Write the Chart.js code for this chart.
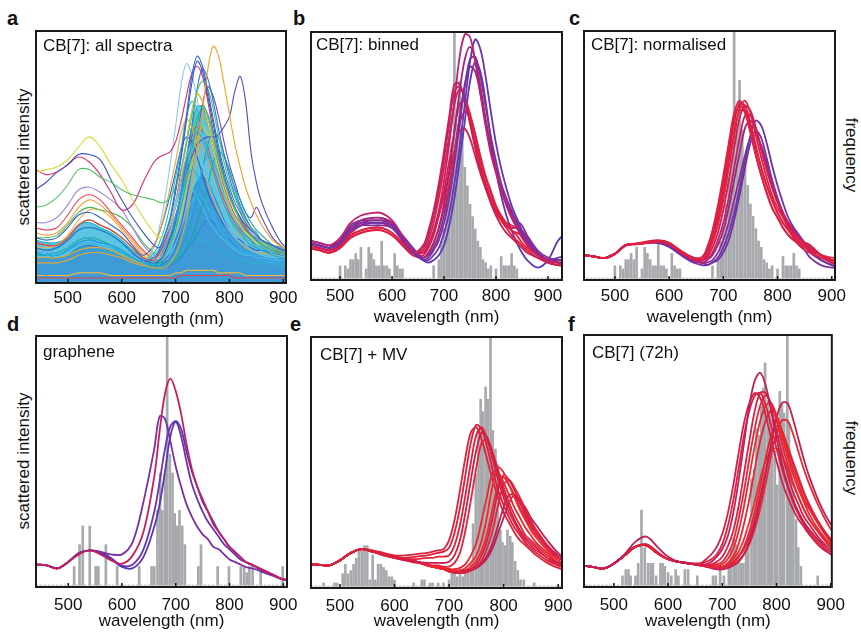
<!DOCTYPE html>
<html>
<head>
<meta charset="utf-8">
<script src="https://cdn.jsdelivr.net/npm/chart.js@4.4.1/dist/chart.umd.min.js"></script>
<style>
  body { margin: 0; background: #fff; }
  #page { position: relative; width: 861px; height: 633px; overflow: hidden; font-family: "Liberation Sans", Arial, sans-serif; color: #111; }
  canvas { position: absolute; }
  .letter { position: absolute; font-weight: bold; font-size: 20px; line-height: 20px; }
  .tag { position: absolute; font-size: 17px; line-height: 17px; white-space: nowrap; }
  .ytitle { position: absolute; font-size: 17px; line-height: 17px; white-space: nowrap; transform: translate(-50%, -50%) rotate(-90deg); }
  .ytitle.right { transform: translate(-50%, -50%) rotate(90deg); }
</style>
</head>
<body>
<div id="page">
  <div class="letter" style="left:7px;top:8px">a</div>
  <div class="letter" style="left:293px;top:8px">b</div>
  <div class="letter" style="left:569px;top:8px">c</div>
  <div class="letter" style="left:7px;top:314px">d</div>
  <div class="letter" style="left:290px;top:314px">e</div>
  <div class="letter" style="left:568px;top:314px">f</div>

  <div class="ytitle" style="left:23px;top:157px">scattered intensity</div>
  <div class="ytitle" style="left:23px;top:461px">scattered intensity</div>
  <div class="ytitle right" style="left:851px;top:155px">frequency</div>
  <div class="ytitle right" style="left:851px;top:458px">frequency</div>
</div>
<script>
// wavelength grid shared by every spectrum (nm)
const wavelengths = [440,460,480,500,520,540,560,580,600,620,640,660,670,680,690,700,710,720,730,740,750,760,770,780,790,800,810,820,830,840,850,860,880,900,920,940];
const tickValues = [500, 600, 700, 800, 900];

// a: all spectra
const specA = [
  [12,11,11,13,16,17,16,15,13,10,8, 8,10,14,19,26,35,45,55,60,57,51,44,37,31,26,22,20,17,15,14,13,11,10,9,9],
  [14,13,14,17,21,22,21,19,16,12,9, 10,13,19,26,38,51,66,82,90,86,76,65,54,45,38,32,28,24,21,19,17,15,13,12,11],
  [11,11,12,14,17,18,17,15,12,10,8, 7,8,11,15,21,30,40,52,64,70,67,59,50,42,35,30,25,22,19,17,15,13,11,10,10],
  [8,8,8,9,11,12,12,11,10,8,7, 6,6,6,8,11,17,25,38,53,68,85,94,90,79,67,55,46,38,32,27,23,17,14,12,11],
  [13,12,12,14,17,18,17,15,13,11,9, 10,13,18,24,32,41,50,55,53,47,40,34,29,24,21,18,16,15,13,12,11,10,10,9,9],
  [30,31,34,39,45,45,42,40,37,35,34, 33,32,32,34,38,45,55,66,76,80,77,69,58,48,40,34,29,25,22,19,17,14,12,11,10],
  [44,45,46,49,54,58,54,47,41,33,26, 20,18,19,23,31,42,55,68,75,72,64,54,45,37,31,26,23,20,18,16,15,13,11,10,10],
  [37,40,44,47,51,51,49,41,33,26,20, 15,14,18,25,36,49,64,79,88,84,74,63,52,43,36,30,26,22,19,17,15,13,11,10,10],
  [45,43,44,47,50,48,43,36,29,31,40, 48,50,51,52,56,64,74,83,86,82,72,60,50,42,35,30,26,23,21,19,17,15,13,12,11],
  [13,12,12,14,17,18,17,15,13,11,9, 8,9,12,18,26,35,44,50,55,57,58,58,59,62,66,76,82,72,52,40,32,22,15,13,12],
  [10,10,10,11,13,14,14,13,11,9,8, 15,20,28,38,48,59,65,62,55,47,39,33,28,24,21,18,16,14,13,12,12,11,10,9,9],
  [16,15,15,18,23,25,23,21,18,14,10, 9,12,17,23,32,44,56,68,75,72,64,54,46,38,32,27,24,21,19,17,15,13,12,11,11],
  [8,8,8,9,11,12,12,11,10,8,7, 6,6,7,9,12,16,22,29,37,46,50,48,43,36,31,26,22,19,17,14,13,11,10,9,8],
  [11,11,11,13,15,16,15,14,12,10,8, 9,12,15,21,27,34,41,45,43,39,33,28,24,21,18,16,14,13,12,11,11,10,9,9,8],
  [14,13,14,17,21,22,21,19,16,12,9, 12,16,22,31,42,53,66,72,69,61,52,44,37,31,27,23,20,18,16,15,14,12,12,11,10],
  [16,15,15,18,23,25,23,21,18,14,10, 8,9,11,16,21,29,39,49,60,66,63,56,48,40,34,29,25,22,19,17,16,14,12,11,11],
  [12,11,11,13,16,17,16,15,13,10,8, 7,9,12,17,24,35,48,62,77,85,81,72,61,51,42,35,30,26,22,19,17,14,12,11,10],
  [8,8,8,9,11,12,12,11,10,8,7, 7,8,10,12,16,21,27,32,35,34,30,26,22,19,16,14,13,12,11,10,9,8,8,7,7],
  [3,3,3,3,4,4,4,3,3,3,3, 3,3,3,3,4,4,5,5,5,5,5,5,4,4,4,4,4,3,3,3,3,3,3,3,3],
  [2,2,2,2,2,2,2,2,2,2,2, 2,2,2,2,2,3,3,3,3,3,3,3,3,3,3,2,2,2,2,2,2,2,2,2,2],
  [12,11,11,13,16,17,16,15,13,10,8, 7,7,7,8,10,14,19,26,35,45,55,60,57,51,44,37,31,26,22,20,17,14,12,11,10],
  [18,17,18,22,27,28,26,23,20,15,11, 15,20,27,35,44,53,58,56,50,43,36,31,27,23,21,18,17,15,14,13,13,12,11,11,10],
  [14,13,14,17,21,22,21,19,16,12,9, 8,8,8,8,9,11,14,18,24,31,39,48,52,50,45,38,33,28,24,21,19,15,13,12,11],
  [16,15,15,18,23,25,23,21,18,14,10, 8,9,11,15,20,27,37,46,57,62,59,53,45,38,32,27,24,21,18,17,15,13,12,11,10],
  [16,15,15,18,23,25,23,21,18,14,10, 8,8,9,12,17,23,33,45,58,71,78,74,66,56,47,40,33,28,26,30,26,18,14,12,11],
  [12,11,11,13,16,17,16,15,13,10,8, 11,14,19,24,30,37,40,38,34,30,25,22,19,17,15,13,12,11,11,10,10,9,9,8,8],
  [8,8,8,9,11,12,12,11,10,8,7, 6,6,6,7,8,10,13,16,19,23,25,24,22,19,17,15,13,12,11,10,9,8,8,7,7],
  [10,10,10,11,13,14,13,12,11,9,7, 6,6,7,8,10,12,14,16,18,17,16,14,13,12,11,10,9,9,8,8,8,7,7,7,7],
  [12,11,11,13,16,17,16,15,13,10,8, 14,22,33,47,62,78,87,83,73,62,52,43,36,30,26,22,20,17,16,15,14,12,11,10,10],
  [20,19,20,24,30,33,31,27,22,17,12, 10,11,14,19,26,34,42,50,55,54,49,42,36,30,26,22,19,17,15,14,13,12,11,10,10],
  [22,21,22,27,33,35,33,28,23,18,13, 10,12,16,22,30,40,50,58,62,60,54,46,39,33,28,24,21,19,17,15,14,12,11,10,10],
  [24,24,26,31,37,38,36,33,29,22,15, 11,11,13,17,24,33,44,55,63,66,63,56,48,41,35,30,26,23,20,18,16,14,13,12,11],
  [18,18,19,23,28,30,29,28,26,22,16, 12,12,14,18,25,35,47,58,66,69,66,58,49,41,34,29,25,22,19,17,16,14,12,11,11],
  [14,14,15,19,25,29,29,26,21,16,11, 9,10,13,18,25,34,44,53,58,57,52,45,38,32,27,23,20,18,16,15,14,12,11,10,10]
];
const colorsA = ['#1fa9e1','#2c6fd6','#19b7b0','#f5a020','#6cc3ee','#58c06a','#d4dc3a','#3a52c0','#e02a6e','#4b4fc8',
  '#f0a530','#e63950','#27b3e6','#33aee0','#22c4c0','#7ccf6a','#2a78d8','#3ab8ea','#f7b733','#e5404a',
  '#1e9fd8','#3060c8','#15a89c','#e8c830','#7048c0','#45bfe8','#2f86dc','#2ab5c8','#8fc8ec',
  '#f29b38','#e8465a','#9a8ad8','#4cba5a','#f5b24a'];
// dense core of the many overlapping spectra (two layers)
const denseA = [17,16,16,18,23,24,22,20,17,13,10, 9,9,11,16,25,37,50,62,70,70,64,55,46,38,31,26,23,21,19,18,17,15,14,13,13];
const denseLowA = [10,10,10,11,14,15,14,13,11,9,7, 7,7,8,10,14,20,27,34,40,42,40,35,30,25,21,18,16,14,13,12,11,10,10,9,9];

// b: binned
const specB = [
  [16,15,14,17,23,26,27,27,24,18,12, 11,14,20,28,40,55,72,90,99,98,88,75,62,51,43,36,30,25,21,17,14,10,8,7,7],
  [15,14,13,15,21,23,23,23,22,17,12, 8,8,10,13,19,27,39,54,71,88,97,93,82,68,55,45,37,30,25,20,16,11,8,9,10],
  [15,14,13,16,21,24,25,25,23,17,12, 9,11,15,21,31,44,60,76,89,94,89,78,65,54,45,37,31,26,22,18,15,11,8,7,7],
  [15,14,13,15,20,22,22,22,21,16,11, 8,9,12,16,23,33,47,63,78,89,90,82,70,58,48,39,33,28,23,19,16,11,8,8,8],
  [14,13,12,14,19,22,23,23,21,16,11, 14,20,28,39,52,66,79,79,72,63,53,44,37,31,26,22,19,17,15,13,11,9,7,6,6],
  [14,13,12,14,18,20,21,21,19,15,11, 12,16,23,33,45,58,71,77,74,66,56,47,39,33,28,24,21,18,16,14,12,9,7,6,6],
  [13,12,11,13,17,19,20,20,18,14,10, 10,13,18,26,36,48,60,71,72,67,58,49,41,35,29,25,22,20,19,18,15,10,7,6,6],
  [13,12,11,13,17,19,20,20,18,14,10, 9,11,15,21,29,39,51,63,68,66,59,50,42,36,30,26,23,20,18,15,13,10,8,7,7],
  [13,12,11,13,18,20,21,21,19,15,11, 11,14,19,26,34,43,52,60,61,57,50,43,37,32,28,25,23,22,21,19,16,11,8,7,7],
  [16,15,14,16,22,24,24,24,23,17,12, 9,10,13,18,26,37,51,66,79,86,84,75,64,53,44,37,31,27,24,22,18,12,9,8,8],
  [15,14,13,15,20,23,24,24,22,16,11, 13,18,26,36,49,63,76,78,73,64,54,45,38,32,27,24,22,21,21,20,17,11,8,7,7],
  [14,13,12,14,19,22,23,23,22,18,13, 8,7,8,10,14,22,33,48,64,80,88,84,72,57,44,34,26,20,15,11,8,5,8,16,20]
];
const colorsB = ['#c2206a','#6a33b0','#a0257f','#7c30a0','#cc1f58','#e0203f','#dd1f45','#e4223a','#d8204c','#8a2c95','#b82273','#5c37b8'];

// c: normalised
const specC = [
  [10,9.5,8.8,10.5,14,14.5,15,15.5,14.5,11.5,9, 9,13,20,30,42,55,67,72,68,60,50,42,35,29,25,21,18,16,14,12,11,9,7,6,6],
  [10,9.5,8.8,10.5,14,14.7,15.5,16,15,12,9.5, 8,11,17,26,37,50,63,71,70,63,54,45,38,32,27,23,20,17,15,13,12,10,8,7,7],
  [10,9.5,8.8,10.5,14,14.5,15,15.5,14.5,11.5,9, 8,10,15,22,32,45,58,69,72,67,58,49,41,34,29,25,21,18,16,14,12,10,8,7,7],
  [10,9.5,8.8,10.5,13.8,14.3,14.8,15.3,14.3,11.3,9, 8,9,13,19,28,40,53,65,70,68,61,52,44,37,31,26,22,19,17,15,13,10,8,7,7],
  [10,9.5,8.8,10.5,14,14.6,15.2,15.6,14.6,11.6,9.2, 9,12,18,28,40,53,65,70,67,59,50,42,35,29,25,21,18,16,15,15,14,10,8,7,7],
  [10,9.5,8.8,10.5,14,14.5,15,15.5,14.5,11,8.5, 7,8,11,16,23,33,45,57,66,66,61,53,45,38,32,27,23,20,17,15,13,10,7,6,6],
  [10,9.5,8.8,10.5,14,14.5,15,15,13.5,10.5,8, 7,6,7,9,13,19,27,37,48,58,64,62,55,46,38,31,25,21,18,15,12,8,6,5,5],
  [10,9.5,8.8,10.5,14,14.5,15,15,13.8,10.8,8.2, 7,7,8,11,16,23,32,41,50,57,58,54,47,40,33,27,22,19,16,14,11,8,6,5,5],
  [10,9.5,8.8,10.5,14,14.5,15,15.3,14,11,8.5, 7,8,10,14,20,29,40,51,61,64,60,53,45,38,32,27,23,20,17,15,14,10,7,6,6],
  [10,9.5,8.8,10.5,14,14.6,15.3,15.8,14.8,11.8,9.3, 8,10,16,24,34,47,59,68,68,62,53,45,38,32,27,23,20,17,15,13,12,10,9,8,8],
  [10,9.5,8.8,10.5,14,14.5,15,14.8,13.3,10.2,7.5, 6,6,7,8,11,16,24,34,45,55,60,57,49,40,32,26,21,17,14,12,9,6,5,5,5]
];
const colorsC = ['#e0203f','#d81f4b','#e4223a','#c8205f','#dc1f44','#bf2168','#6a33b0','#8a2c95','#a0257f','#e6253c','#7b30a2'];

// d: graphene
const specD = [
  [9,8.6,7.3,10,13,14.6,13,10.6,9.3,12.6,22, 44,62,77,83,78,69,57,47,40,35,30,25,22,19,16,14,12,10,9,8,7,5,3,3,3],
  [9,8.6,7.5,10,13.5,14.6,14,13,13,18,34, 55,68,67,58,48,40,33,28,24,21,19,16,15,13,11,10,9,8,7.5,7,6,4.5,3,3,3],
  [9,8.6,7.5,10,13.5,14.6,13.5,11,8,7.5,12, 24,33,46,60,66,63,54,46,40,34,30,26,22,19,16,14,12,10,9,8,6.5,5,3,3,3],
  [9,8.6,7.5,10,13.5,14.6,14,11.5,8.5,9,15, 30,42,55,64,66,60,50,41,35,30,26,23,20,17,15,13,11,10,9,8,7,5,3,3,3]
];
const colorsD = ['#c81e5a','#7a2fa5','#5a36b5','#6a33b0'];

// e: CB[7] + MV
const specE = [
  [9.5,9.3,9,11,14,15.5,14.5,13.3,12.5,12,12.5, 13,13.5,14,14.5,16,22,32,45,58,65,63,56,47,39,33,28,24,21,18,16,14,11,9,8,7],
  [9.5,9.3,9,11,14,15.5,14.5,13.3,12.3,11.7,11.5, 12,12,12.5,12.5,13,17,25,37,50,61,64,59,51,43,36,30,26,22,19,17,15,12,9,8,7],
  [9.5,9.3,9,11,14,15.5,14.5,13,12,11,10.5, 10,10,10,10,10.5,13,19,30,43,55,62,60,53,45,38,32,27,23,20,18,16,12,10,8,7],
  [9.5,9.3,9,11,14,15.5,14.5,13,12,11,10, 9.5,9,9,8.5,8.5,10,14,23,35,48,58,59,54,47,40,34,29,25,21,19,17,13,10,8,7],
  [9.5,9.3,9,11,14,15.5,14.5,13.3,12.3,11.5,10.5, 9,8.5,8,7.5,7,6.8,7,8,10,13,19,29,41,48,46,41,36,31,27,23,20,15,11,9,8],
  [9.5,9.3,9,11,14,15.5,14.5,13.3,12.3,11.5,10.5, 9,8.7,8.4,8,7.5,7.5,8,9.5,13,18,27,37,46,46,42,37,32,28,24,21,18,14,10,9,8],
  [9.5,9.3,9,11,14,15.5,14.5,13.3,12.3,11.5,10.5, 9,8.5,8,7.5,6.5,6,6,6.5,7.5,9.5,13,19,28,39,45,43,39,34,29,25,22,16,12,10,9],
  [9.5,9.3,9,11,14,15.5,14.5,13.3,12.3,11.5,10.5, 9,8.5,8,7.5,6.5,6,6,6,7,8.5,11,16,23,33,41,43,40,36,31,27,23,17,12,10,9],
  [9.5,9.3,9,11,14,15.5,14.5,13.3,12.3,11.5,10.5, 9,8.5,8,7.5,7,6.5,6.5,6.5,7,8,10,13,18,25,32,37,37,34,30,26,23,17,13,10,9],
  [9.5,9.3,9,11,14,15.5,14.5,13.3,12.3,11.5,10.5, 9,8.5,8,7.8,7.5,7,7,7,7.5,8,9.5,12,16,22,28,34,37,35,32,28,25,19,14,11,10],
  [9.5,9.3,9,11,14,15.5,14.5,13.3,12.3,11.5,10.5, 9,8.5,8,7.5,7,6.5,6.5,7,8.5,11,15,22,32,41,44,41,37,32,28,24,21,16,11,9,8],
  [9.5,9.3,9,11,14,15.5,15,14,13,13,13.5, 14,14.5,15,15.5,19,27,39,52,62,64,59,51,43,36,30,26,22,19,17,15,13,10,8,7,7]
];
const colorsE = ['#d81f3f','#e0203a','#c91d4e','#e52535','#f0282e','#ea2630','#d4204a','#e5243a','#b51f5c','#c21e55','#ee2a2c','#dc2238'];

// f: CB[7] (72h)
const specF = [
  [8.6,8,7.3,9.3,13,18,20,16,12,10,9.3, 8.6,9,10,12,15,20,29,42,57,72,82,85,80,70,59,49,41,35,30,26,23,18,14,12,10],
  [8.6,8,7.3,9.3,12.6,16,16.5,13.5,11,10,9.3, 9,10,11,13,17,24,34,47,60,70,76,77,72,64,55,47,40,34,29,25,22,17,13,11,10],
  [8.6,8,7.3,9.3,12.6,16,16.5,13.5,11,10,9.3, 8.6,8.6,9,10,12,16,22,32,45,58,70,77,77,71,62,53,45,38,33,28,25,19,15,12,10],
  [8.6,8,7.3,9.3,12.6,16,16.5,13.5,11,10,9.3, 8.6,8.5,8.5,9,10,13,18,27,38,51,63,72,76,73,66,57,49,42,36,31,27,21,16,13,11],
  [8.6,8,7.3,9.3,12.6,16,16.5,13.5,11,10,9.3, 8.6,8.3,8,8.3,9,11,15,22,32,44,56,66,72,73,68,60,52,45,39,34,29,22,17,14,11],
  [8.6,8,7.3,9.3,12.6,16,16.5,13.5,11,10,9.3, 8.6,8,7.5,7,7,7.5,8.5,10,13,18,25,34,45,57,67,73,73,67,59,51,44,33,25,20,16],
  [8.6,8,7.3,9.3,12.6,16,16.5,13.5,11,10,9.3, 8.6,8.2,7.8,7.6,7.5,8,9,10.5,13,17,23,31,41,52,61,66,66,61,54,47,41,31,23,18,15],
  [8.6,8,7.3,9.3,12.6,16,16.5,13.5,11,10,9.3, 8.6,8.2,7.8,7.6,7.5,8,9.5,12,16,22,30,40,51,60,64,62,56,49,43,37,32,24,18,14,12],
  [8.6,8,7.3,9.3,12.6,16,16.5,13.5,11,10,9.3, 8.6,8.3,8,8,8,8.5,10,12,15,20,27,36,46,55,59,60,56,50,44,38,33,25,19,15,12],
  [8.6,8,7.3,9.3,12.6,16,16.5,13.5,11,10,9.3, 8.6,8.3,8,8,8,9,11,14,19,26,34,43,50,54,55,52,47,41,36,31,27,21,16,13,11],
  [8.6,8,7.3,9.3,12.6,16,17,14,11,10,9.5, 9.5,11,13,16,21,29,40,53,65,73,77,75,68,59,50,42,36,31,27,24,21,16,13,11,10],
  [8.6,8,7.3,9.3,12.6,16,16.5,13.5,11,10,9.3, 8.6,8.3,8,8,8,9.5,12,17,25,35,47,58,66,70,68,62,54,47,41,35,31,24,18,14,12]
];
const colorsF = ['#c21e55','#e0203a','#d81f44','#e52535','#ea2a30','#c41d52','#e22a3a','#e8252f','#d92244','#ee3030','#d01f4c','#e42533'];

// peak-position histograms (bin centre nm, count)
const histCbX = [500,510,515,520,525,530,535,540,550,555,560,565,570,575,580,585,590,595,605,610,615,620,680,690,695,700,705,710,715,720,725,730,735,740,745,750,755,760,765,770,775,780,785,790,800,810,815,820,825,830,835,840];
const histCbN = [4,4,3,6,6,8,6,10,3,10,8,6,4,4,12,4,4,3,8,4,3,3,4,6,12,16,24,32,44,80,50,64,48,36,30,24,20,16,12,10,6,5,3,4,3,7,4,4,4,8,4,3];
const histDX = [511,521,527,540,551,556,570,591,632,655,660,666,671,675,680,684,689,694,698,703,707,712,717,742,747,778,799,821,827,832,837,843,858,899];
const histDN = [6,13,19,19,6,6,13,6,6,6,6,24,36,24,36,80,42,36,23,19,24,19,13,6,13,6,6,6,6,4,6,6,4,6];
const histEX = [470,490,495,505,510,515,520,525,530,535,540,545,550,555,560,565,570,575,580,585,590,595,600,635,650,655,665,670,680,690,700,705,710,715,720,725,730,735,740,744,749,754,758,762,767,771,776,780,785,789,794,798,803,807,812,816,821,826,831,837,856];
const histEN = [1,1,1,4,7,4,5,7,9,12,12,13,13,2,10,2,7,7,6,5,3,3,2,1,2,2,1,1,1,1,2,4,5,3,4,3,4,5,7,20,36,50,60,56,64,60,80,50,44,39,18,14,13,18,16,14,8,5,2,2,1];
const histFX = [516,522,527,531,540,545,551,557,563,568,572,578,586,590,594,600,606,614,619,631,637,654,683,688,696,703,712,716,721,725,730,735,739,744,748,754,759,763,768,772,776,779,784,788,792,797,801,806,810,814,820,823,827,831,836,840,845,876];
const histFN = [3,5,5,3,3,7,24,12,7,7,7,3,7,7,6,4,3,5,3,5,5,3,3,3,6,3,7,12,15,13,10,7,7,11,16,34,37,50,48,57,63,71,59,56,53,43,32,62,58,55,80,52,38,30,21,12,6,3];
const baselineX = [440, 940];
const baselineN = [0, 0];

const FONT = '"Liberation Sans", Arial, sans-serif';
const PAD = 20;

const framePlugin = {
  id: 'frame',
  afterDraw(chart) {
    const { ctx, chartArea: a, scales: { x } } = chart;
    ctx.save();
    ctx.strokeStyle = '#1a1a1a';
    ctx.lineWidth = 1.5;
    tickValues.forEach(v => {
      const px = x.getPixelForValue(v);
      ctx.beginPath();
      ctx.moveTo(px, a.bottom);
      ctx.lineTo(px, a.bottom - 4);
      ctx.stroke();
    });
    ctx.lineWidth = 2;
    ctx.strokeRect(a.left, a.top, a.right - a.left, a.bottom - a.top);
    ctx.restore();
  }
};

function points(xs, ys) {
  return xs.map((x, i) => ({ x: x, y: ys[i] }));
}

function makePanel(cfg) {
  const page = document.getElementById('page');
  const [fx, fy, fw, fh] = cfg.frame;
  const canvas = document.createElement('canvas');
  canvas.width = fw + 2 * PAD;
  canvas.height = fh + 2 + cfg.axisH;
  canvas.style.left = (fx - PAD) + 'px';
  canvas.style.top = (fy - 2) + 'px';
  page.appendChild(canvas);

  const tag = document.createElement('div');
  tag.className = 'tag';
  tag.textContent = cfg.tag;
  tag.style.left = cfg.tagPos[0] + 'px';
  tag.style.top = cfg.tagPos[1] + 'px';
  page.appendChild(tag);

  const datasets = cfg.rows.map((row, i) => ({
    type: 'line',
    data: points(wavelengths, row),
    borderColor: cfg.colors[i],
    borderWidth: cfg.lineWidth,
    yAxisID: 'y',
    fill: false,
    order: 0
  }));
  if (cfg.dense) {
    datasets.push({
      type: 'line',
      data: points(wavelengths, cfg.denseLow),
      borderWidth: 1.2,
      borderColor: '#2f7fd0',
      backgroundColor: 'rgba(40,120,205,0.55)',
      fill: 'origin',
      yAxisID: 'y',
      order: 6
    });
    datasets.push({
      type: 'line',
      data: points(wavelengths, cfg.dense),
      borderWidth: 1.2,
      borderColor: '#21b0c8',
      backgroundColor: 'rgba(30,175,215,0.72)',
      fill: 'origin',
      yAxisID: 'y',
      order: 7
    });
  }
  if (cfg.histX) {
    datasets.push({
      type: 'bar',
      data: points(cfg.histX, cfg.histN),
      backgroundColor: '#a7a9ac',
      barThickness: 2,
      grouped: false,
      yAxisID: 'y2',
      order: 5
    });
    datasets.push({
      type: 'line',
      data: points(baselineX, baselineN),
      borderColor: '#b8b8b8',
      borderWidth: 1,
      borderDash: [2, 2],
      tension: 0,
      yAxisID: 'y2',
      order: 4
    });
  }

  new Chart(canvas, {
    type: 'line',
    data: { datasets },
    options: {
      responsive: false,
      animation: false,
      devicePixelRatio: 1,
      events: [],
      layout: { padding: { left: PAD, right: PAD, top: 2, bottom: 0 } },
      plugins: { legend: { display: false }, tooltip: { enabled: false } },
      elements: { point: { radius: 0 }, line: { tension: 0.35, borderJoinStyle: 'round', borderCapStyle: 'round' } },
      scales: {
        x: {
          type: 'linear',
          min: cfg.xMin,
          max: cfg.xMax,
          offset: false,
          afterBuildTicks: s => { s.ticks = tickValues.map(v => ({ value: v })); },
          afterFit: s => { s.height = cfg.axisH; },
          grid: { display: false, drawTicks: false, offset: false },
          border: { display: false },
          ticks: { font: { family: FONT, size: 17 }, color: '#111', padding: cfg.tickPad, maxRotation: 0, autoSkip: false },
          title: { display: true, text: 'wavelength (nm)', font: { family: FONT, size: 17 }, color: '#111', padding: 0 }
        },
        y: { display: false, min: 0, max: 100 },
        y2: { display: false, axis: 'y', min: -0.6, max: 80 }
      }
    },
    plugins: [framePlugin]
  });
}

makePanel({ frame: [36, 31, 250, 252], xMin: 441, xMax: 905, rows: specA, colors: colorsA, lineWidth: 1.1, dense: denseA, denseLow: denseLowA,
  tag: 'CB[7]: all spectra', tagPos: [43, 37], tickPad: 5, axisH: 47 });
makePanel({ frame: [311, 32, 251, 248], xMin: 444, xMax: 927, rows: specB, colors: colorsB, lineWidth: 1.8,
  histX: histCbX, histN: histCbN, tag: 'CB[7]: binned', tagPos: [316, 36], tickPad: 6, axisH: 48 });
makePanel({ frame: [584, 31, 251, 249], xMin: 443, xMax: 906, rows: specC, colors: colorsC, lineWidth: 1.8,
  histX: histCbX, histN: histCbN, tag: 'CB[7]: normalised', tagPos: [591, 36], tickPad: 6, axisH: 48 });
makePanel({ frame: [36, 336, 251, 251], xMin: 440, xMax: 907, rows: specD, colors: colorsD, lineWidth: 1.8,
  histX: histDX, histN: histDN, tag: 'graphene', tagPos: [43, 343], tickPad: 8, axisH: 45 });
makePanel({ frame: [311, 337, 251, 251], xMin: 447, xMax: 907, rows: specE, colors: colorsE, lineWidth: 1.8,
  histX: histEX, histN: histEN, tag: 'CB[7] + MV', tagPos: [320, 346], tickPad: 8, axisH: 44 });
makePanel({ frame: [584, 335, 249, 252], xMin: 445, xMax: 902, rows: specF, colors: colorsF, lineWidth: 1.8,
  histX: histFX, histN: histFN, tag: 'CB[7] (72h)', tagPos: [592, 344], tickPad: 8, axisH: 45 });
</script>
</body>
</html>
